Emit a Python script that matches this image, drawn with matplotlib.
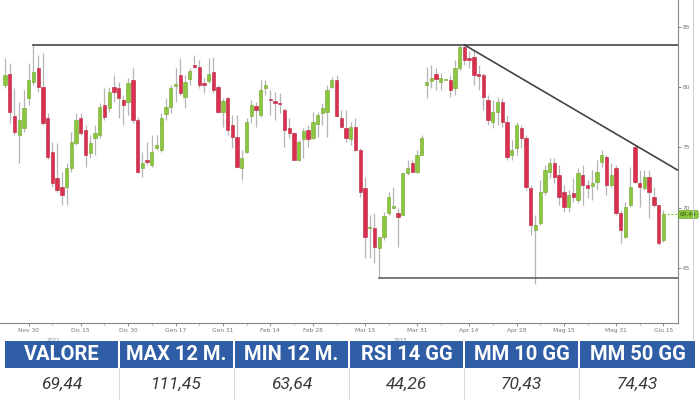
import matplotlib
matplotlib.use("Agg")
import matplotlib.pyplot as plt
from matplotlib.patches import Rectangle
import numpy as np

# ---------------- data ----------------
opens = [80.17, 81.09, 77.60, 76.03, 76.61, 79.10, 80.42, 81.58, 80.01, 77.44,
         74.62, 72.46, 71.72, 71.72, 73.29, 75.36, 77.44, 76.44, 74.54, 75.78,
         76.03, 78.52, 78.27, 80.01, 79.93, 78.93, 78.76, 80.59, 77.27, 73.29,
         73.96, 73.54, 74.95, 74.78, 77.77, 78.35, 80.09, 81.00, 79.18, 80.67,
         81.83, 81.67, 80.34, 80.51, 81.25, 80.01, 77.94, 79.10, 76.86, 75.86,
         73.29, 74.62, 77.60, 78.43, 77.69, 79.93, 78.95, 78.85, 78.68, 78.10,
         76.61, 76.19, 73.96, 75.70, 76.44, 75.78, 76.94, 77.85, 77.94, 80.01,
         80.59, 77.44, 76.61, 75.70, 76.69, 74.78, 71.63, 68.30, 68.32, 66.66,
         67.57, 69.56, 70.00, 69.56, 69.39, 72.88, 73.71, 72.96, 74.37, 80.17,
         80.51, 81.09, 80.42, 80.60, 80.59, 79.93, 81.58, 83.30, 82.41, 82.50,
         81.09, 81.00, 78.93, 77.11, 77.94, 78.76, 77.11, 74.37, 74.95, 76.61,
         75.78, 71.63, 68.15, 68.73, 71.30, 72.96, 73.71, 72.71, 71.30, 70.06,
         71.22, 70.64, 72.71, 71.88, 71.80, 72.13, 73.79, 74.20, 71.88, 73.29,
         69.56, 67.57, 70.22, 75.03, 72.05, 71.63, 72.55, 70.89, 70.22, 67.32]
highs = [82.41, 82.00, 79.93, 78.76, 79.76, 82.00, 83.45, 82.66, 82.83, 77.85,
         75.45, 75.36, 72.96, 73.71, 76.28, 77.85, 77.85, 76.86, 76.03, 76.86,
         78.68, 79.93, 80.01, 81.00, 80.42, 79.35, 80.75, 81.58, 77.52, 74.62,
         75.45, 76.03, 76.03, 77.85, 79.10, 80.17, 81.58, 82.41, 81.00, 81.58,
         82.66, 82.25, 80.75, 82.41, 82.50, 80.17, 79.10, 79.18, 77.69, 77.69,
         74.78, 77.44, 78.93, 78.76, 80.59, 80.59, 79.76, 79.59, 79.51, 78.27,
         77.44, 76.28, 75.61, 76.61, 76.86, 77.94, 77.94, 78.68, 80.17, 80.84,
         81.00, 78.10, 78.10, 77.11, 77.44, 74.95, 72.55, 69.39, 69.56, 67.60,
         69.64, 71.30, 71.72, 69.98, 72.96, 73.96, 73.96, 74.78, 76.03, 81.67,
         81.83, 81.58, 81.17, 80.60, 81.00, 82.25, 83.49, 83.50, 83.00, 83.08,
         81.83, 81.17, 79.35, 78.93, 79.18, 79.10, 77.69, 75.61, 77.11, 76.86,
         76.03, 71.88, 69.39, 72.30, 73.54, 74.12, 74.12, 73.54, 71.88, 71.47,
         72.46, 73.29, 73.54, 72.30, 73.13, 73.96, 74.78, 74.37, 73.71, 73.54,
         69.81, 70.47, 73.37, 75.20, 73.13, 73.13, 73.13, 71.72, 70.22, 69.81]
lows = [79.93, 77.02, 76.03, 73.71, 76.28, 78.52, 80.17, 79.59, 76.86, 74.00,
        71.72, 71.30, 70.22, 70.22, 72.96, 75.20, 76.03, 73.37, 74.12, 74.37,
        75.78, 77.27, 77.94, 78.76, 77.44, 76.86, 77.69, 77.02, 72.88, 72.55,
        73.54, 73.37, 74.78, 74.62, 77.27, 77.85, 78.76, 79.35, 78.27, 80.17,
        81.58, 79.93, 79.51, 80.34, 79.51, 77.85, 76.69, 76.03, 74.95, 73.29,
        72.30, 74.54, 77.02, 76.69, 77.52, 79.35, 77.69, 77.27, 77.85, 75.03,
        75.78, 73.96, 73.90, 74.12, 75.03, 75.70, 75.86, 76.86, 75.86, 79.93,
        77.52, 76.61, 75.45, 75.20, 74.70, 70.90, 65.83, 65.83, 65.41, 64.17,
        67.32, 69.39, 69.98, 66.74, 69.39, 72.71, 72.96, 72.88, 74.37, 79.10,
        79.93, 79.76, 79.76, 80.60, 79.18, 79.35, 81.42, 81.83, 81.58, 80.17,
        79.76, 78.10, 76.86, 76.61, 76.86, 76.69, 73.96, 73.96, 74.37, 74.95,
        71.47, 67.74, 63.64, 68.57, 71.05, 72.46, 72.05, 70.22, 69.64, 69.64,
        70.47, 70.39, 70.22, 70.80, 70.64, 71.47, 73.37, 71.05, 71.72, 69.39,
        67.07, 67.49, 70.06, 72.05, 70.06, 71.47, 69.15, 70.06, 66.91, 67.16]
closes = [81.00, 77.94, 76.28, 77.27, 78.27, 80.59, 81.25, 80.01, 77.02, 74.20,
          72.05, 71.47, 71.05, 73.29, 75.45, 77.27, 76.19, 74.37, 75.36, 76.19,
          78.35, 77.52, 79.59, 79.59, 79.10, 78.52, 80.34, 77.27, 72.96, 73.71,
          73.79, 74.62, 75.20, 77.44, 78.35, 79.93, 80.26, 79.51, 80.42, 81.33,
          81.67, 80.17, 80.17, 81.09, 79.76, 77.94, 78.85, 76.44, 75.86, 73.37,
          74.12, 77.11, 78.52, 78.10, 79.76, 80.17, 78.90, 78.68, 78.60, 76.44,
          76.19, 73.96, 75.45, 76.36, 75.70, 77.11, 77.69, 78.27, 79.76, 80.59,
          77.60, 76.69, 75.78, 76.69, 74.78, 71.30, 67.57, 68.40, 66.74, 67.57,
          69.31, 70.89, 70.10, 69.23, 72.88, 73.29, 72.96, 74.37, 75.78, 80.42,
          80.75, 80.67, 80.75, 80.60, 79.76, 81.58, 83.30, 82.25, 82.25, 81.00,
          80.92, 79.18, 77.27, 77.94, 78.76, 77.11, 74.20, 74.78, 76.86, 75.78,
          71.72, 68.57, 68.57, 71.30, 73.13, 73.71, 72.55, 70.89, 70.06, 71.05,
          70.89, 72.88, 71.88, 71.63, 72.05, 72.96, 74.37, 71.88, 72.71, 69.56,
          68.15, 70.06, 71.72, 72.13, 71.72, 72.55, 71.30, 70.22, 67.07, 69.44]

tick_labels = ["Nov 30", "Dic 15", "Dic 30", "Gen 17", "Gen 31", "Feb 14", "Feb 28",
               "Mar 15", "Mar 31", "Apr 14", "Apr 28", "Mag 15", "Mag 31", "Giu 15"]
tick_bars = [5, 16, 26, 36, 46, 56, 65, 76, 87, 98, 108, 118, 129, 139]
year_labels = ["2022", "2023"]
year_bars = [10.3, 83.5]

resistance = 83.45
support = 64.17
trend_pts = [(97, 83.50), (133, 75.20)]
last_price = 69.44

headers = ["VALORE", "MAX 12 M.", "MIN 12 M.", "RSI 14 GG", "MM 10 GG", "MM 50 GG"]
values = ["69,44", "111,45", "63,64", "44,26", "70,43", "74,43"]

# ---------------- figure ----------------
W, H = 700, 400
fig = plt.figure(figsize=(7, 4), dpi=100)
fig.patch.set_facecolor("white")

ax = fig.add_axes([0, 1 - 323 / H, 678 / W, 323 / H])
n = len(opens)
x = np.arange(n)
o = np.array(opens); c = np.array(closes); hi = np.array(highs); lo = np.array(lows)
up = c >= o
RED = "#d8304e"
GREEN = "#8cc63e"

ax.vlines(x, lo, hi, color="#b5b5b5", lw=0.9, zorder=2)
bottoms = np.minimum(o, c)
heights = np.maximum(np.abs(c - o), 0.08)
ax.bar(x[up], heights[up], bottom=bottoms[up], width=0.7, color=GREEN,
       edgecolor="#6fa52a", linewidth=0.4, zorder=3)
ax.bar(x[~up], heights[~up], bottom=bottoms[~up], width=0.7, color=RED,
       edgecolor="#b8233e", linewidth=0.4, zorder=3)

x_left, x_right = -1.06, 142.1
ax.set_xlim(x_left, x_right)
ax.set_ylim(60.44, 87.22)

# support / resistance / trendline
ax.plot([6, x_right], [resistance, resistance], color="#555555", lw=1.3, zorder=4)
ax.plot([79, x_right], [support, support], color="#555555", lw=1.1, zorder=4)
(x0, y0), (x1, y1) = trend_pts
slope = (y1 - y0) / (x1 - x0)
ax.plot([x0, x_right], [y0, y0 + slope * (x_right - x0)], color="#444444", lw=1.2, zorder=4)

# last price line and label
ax.plot([n - 1, x_right], [last_price, last_price], color="#8cc63e", lw=0.8,
        ls=(0, (2, 1.5)), zorder=4)
ax.text(1.003, last_price, f"{last_price:.2f}", transform=ax.get_yaxis_transform(),
        fontsize=4.2, color="#2d5a10", va="center", ha="left", clip_on=False,
        bbox=dict(boxstyle="round,pad=0.25", fc="#8cc63e", ec="#6fa52a", lw=0.5))

# axes styling
for s in ["top", "left"]:
    ax.spines[s].set_visible(False)
ax.spines["right"].set_color("#888888")
ax.spines["right"].set_linewidth(0.8)
ax.spines["bottom"].set_color("#888888")
ax.spines["bottom"].set_linewidth(0.8)
ax.yaxis.tick_right()
ax.set_yticks([65, 70, 75, 80, 85])
ax.tick_params(axis="y", labelsize=4.2, colors="#777777", length=2, width=0.6, pad=1)
ax.set_xticks(tick_bars)
ax.set_xticklabels(tick_labels)
ax.tick_params(axis="x", labelsize=4.2, colors="#777777", length=2, width=0.6, pad=1.5)
ax.set_xticks([b + 5 for b in tick_bars[:-1]], minor=True)
ax.tick_params(axis="x", which="minor", length=1.5, width=0.5, colors="#999999")
for lab, b in zip(year_labels, year_bars):
    ax.text(b, -0.045, lab, transform=ax.get_xaxis_transform(), fontsize=3.8,
            color="#888888", ha="center", va="top")

# right light strip
fig.patches.append(Rectangle((693 / W, 1 - 340 / H), 1 / W, 340 / H,
                             transform=fig.transFigure, color="#cfcfcf", lw=0))

# ---------------- table ----------------
col_edges = [5, 118, 233, 348, 463, 578, 695]
head_top, head_bot, val_bot = 341, 368, 400
BLUE = "#2f5ea6"
for i, (hname, val) in enumerate(zip(headers, values)):
    xl = col_edges[i] + (0 if i == 0 else 2)
    xr = col_edges[i + 1]
    fig.patches.append(Rectangle((xl / W, 1 - head_bot / H), (xr - xl) / W,
                                 (head_bot - head_top) / H, transform=fig.transFigure,
                                 color=BLUE, lw=0))
    cx = (xl + xr) / 2 / W
    fig.text(cx, 1 - (head_top + head_bot) / 2 / H, hname, color="white",
             fontsize=14.5, fontweight="bold", ha="center", va="center",
             family=["Liberation Sans Narrow", "Roboto"])
    fig.text(cx, 1 - 384.5 / H, val, color="#3a3a3a", fontsize=12.5, style="italic",
             ha="center", va="center", family=["Roboto", "DejaVu Sans"])
    if i > 0:
        fig.patches.append(Rectangle((xl / W - 1 / W, 1 - val_bot / H), 0.8 / W,
                                     (val_bot - head_bot) / H, transform=fig.transFigure,
                                     color="#d9d9d9", lw=0))

fig.savefig("out.png", dpi=100)
